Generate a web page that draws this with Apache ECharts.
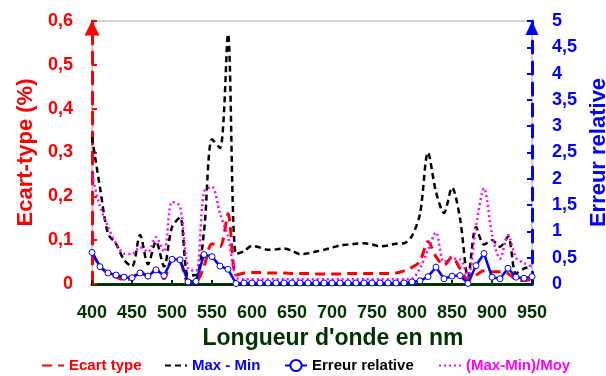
<!DOCTYPE html>
<html>
<head>
<meta charset="utf-8">
<script src="https://cdn.jsdelivr.net/npm/echarts@6/dist/echarts.min.js"></script>
<style>
html,body{margin:0;padding:0;background:#fff;}
#chart{width:606px;height:376px;}
</style>
</head>
<body>
<div id="chart"></div>
<script>
// Wavelengths (nm)
var wavelengths = [400,410,420,430,440,450,460,470,480,490,500,510,520,530,540,550,560,570,580,590,
  600,610,620,630,640,650,660,670,680,690,700,710,720,730,740,750,760,770,780,790,
  800,810,820,830,840,850,860,870,880,890,900,910,920,930,940,950];

// Ecart type (%) - left axis
var ecartType = [0.072,0.04,0.024,0.016,0.01,0.012,0.03,0.016,0.034,0.012,0.055,0.052,0.005,0.006,0.04,0.092,0.085,0.16,0.02,0.025,
  0.026,0.026,0.025,0.025,0.025,0.024,0.024,0.024,0.023,0.023,0.023,0.023,0.024,0.024,0.024,0.024,0.024,0.024,0.025,0.03,
  0.038,0.052,0.097,0.062,0.043,0.062,0.035,0.01,0.02,0.03,0.028,0.028,0.024,0.01,0.008,0.01];

// Max - Min - left axis
var maxMin = [0.335,0.22,0.115,0.092,0.055,0.04,0.112,0.045,0.097,0.04,0.13,0.152,0.02,0.02,0.12,0.33,0.31,0.57,0.068,0.075,
  0.087,0.083,0.078,0.079,0.081,0.076,0.068,0.07,0.074,0.078,0.083,0.088,0.09,0.092,0.093,0.09,0.086,0.088,0.092,0.093,
  0.11,0.16,0.30,0.21,0.162,0.22,0.15,0.015,0.13,0.09,0.1,0.085,0.108,0.024,0.035,0.04];

// Erreur relative - right axis
var erreurRelative = [0.60,0.33,0.21,0.17,0.13,0.12,0.21,0.15,0.27,0.16,0.47,0.46,0.04,0.05,0.56,0.52,0.34,0.28,0.01,0.02,
  0.02,0.02,0.02,0.02,0.02,0.02,0.02,0.02,0.02,0.02,0.02,0.02,0.02,0.02,0.02,0.02,0.02,0.02,0.02,0.02,
  0.04,0.06,0.14,0.32,0.10,0.15,0.16,0.01,0.35,0.58,0.13,0.10,0.30,0.13,0.11,0.14];

// (Max-Min)/Moy - right axis
var maxMinMoy = [2.07,1.47,1.09,0.77,0.58,0.57,0.70,0.61,0.89,0.61,1.56,1.48,0.3,0.25,1.75,1.85,1.34,0.9,0.13,0.09,
  0.09,0.09,0.09,0.09,0.09,0.09,0.09,0.09,0.09,0.09,0.09,0.09,0.09,0.09,0.09,0.09,0.09,0.09,0.09,0.09,
  0.1,0.3,0.65,0.98,0.42,0.48,0.47,0.12,1.1,1.82,0.95,0.48,0.93,0.5,0.4,0.33];

var seriesNames = ['Ecart type','Max - Min','Erreur relative','(Max-Min)/Moy'];
var leftTicks = {min:0, max:0.6, interval:0.1};
var rightTicks = {min:0, max:5, interval:0.5};
var xTicks = {min:400, max:950, interval:50};

function pairs(vals){ return wavelengths.map(function(w,i){ return [w, vals[i]]; }); }
function comma(v){ return String(Number(v.toFixed(2))).replace('.', ','); }

var FONT = '"Liberation Sans", Arial, sans-serif';
var GREEN = '#003300';
var chart = echarts.init(document.getElementById('chart'), null, {renderer:'canvas'});

function legendAt(left, name, color, hideSymbol){
  var l = {
    left: left, top: 358, itemWidth: 22, itemHeight: 14, padding: 0,
    data: [{name: name, textStyle: {color: color}}],
    textStyle: {fontFamily: FONT, fontWeight: 'bold', fontSize: 15}
  };
  if (hideSymbol) { l.itemStyle = {opacity: 0}; }
  return l;
}

chart.setOption({
  animation: false,
  backgroundColor: '#fff',
  grid: {left: 92, right: 74, top: 21, bottom: 92, outerBoundsMode: 'none', containLabel: false,
    show: true, borderColor: '#a6a6a6', borderWidth: 1, backgroundColor: 'transparent'},
  legend: [
    legendAt(41, seriesNames[0], '#ff0000', true),
    legendAt(164, seriesNames[1], '#0000ff', true),
    legendAt(284, seriesNames[2], '#000000', false),
    legendAt(438, seriesNames[3], '#ff00ff', true)
  ],
  xAxis: {
    type: 'value', min: xTicks.min, max: xTicks.max, interval: xTicks.interval,
    name: "Longueur d'onde en nm", nameLocation: 'middle', nameGap: 40,
    nameTextStyle: {color: GREEN, fontFamily: FONT, fontWeight: 'bold', fontSize: 23, padding: [0,0,0,42]},
    axisLine: {show: true, onZero: false, lineStyle: {color: GREEN, width: 3}},
    axisTick: {show: true, inside: true, length: 4, lineStyle: {color: GREEN, width: 2}},
    axisLabel: {color: GREEN, fontFamily: FONT, fontWeight: 'bold', fontSize: 18, margin: 20},
    splitLine: {show: false}
  },
  yAxis: [
    {
      type: 'value', position: 'left', min: leftTicks.min, max: leftTicks.max, interval: leftTicks.interval,
      name: 'Ecart-type (%)', nameLocation: 'middle', nameGap: 55, nameRotate: 90,
      nameTextStyle: {color: '#ff0000', fontFamily: FONT, fontWeight: 'bold', fontSize: 22},
      axisLine: {show: true, symbol: ['none','triangle'], symbolSize: [15,15], symbolOffset: [0,-7],
        lineStyle: {color: '#ff0000', width: 3, type: [12,8]}},
      axisTick: {show: true, inside: true, length: 5, lineStyle: {color: '#ff0000', width: 2}},
      axisLabel: {color: '#ff0000', fontFamily: FONT, fontWeight: 'bold', fontSize: 18, margin: 19, formatter: comma},
      splitLine: {show: false}
    },
    {
      type: 'value', position: 'right', min: rightTicks.min, max: rightTicks.max, interval: rightTicks.interval,
      name: 'Erreur relative', nameLocation: 'middle', nameGap: 46, nameRotate: 90,
      nameTextStyle: {color: '#0000ff', fontFamily: FONT, fontWeight: 'bold', fontSize: 22},
      axisLine: {show: true, symbol: ['none','triangle'], symbolSize: [13,14], symbolOffset: [0,-7],
        lineStyle: {color: '#0000ff', width: 3, type: [12,9]}},
      axisTick: {show: true, inside: true, length: 5, lineStyle: {color: '#0000ff', width: 2}},
      axisLabel: {color: '#0000ff', fontFamily: FONT, fontWeight: 'bold', fontSize: 18, margin: 20, formatter: comma},
      splitLine: {show: false}
    }
  ],
  series: [
    {name: seriesNames[0], type: 'line', yAxisIndex: 0, data: pairs(ecartType), smooth: 0.3,
      symbol: 'none', lineStyle: {color: '#ff0000', width: 3, type: [10,6]}, itemStyle: {color: '#ff0000'}, z: 2},
    {name: seriesNames[1], type: 'line', yAxisIndex: 0, data: pairs(maxMin), smooth: 0.3,
      symbol: 'none', lineStyle: {color: '#000000', width: 2.5, type: [6,4]}, itemStyle: {color: '#000000'}, z: 3},
    {name: seriesNames[3], type: 'line', yAxisIndex: 1, data: pairs(maxMinMoy), smooth: 0.3,
      symbol: 'none', lineStyle: {color: '#ff00ff', width: 2.5, type: [2,3]}, itemStyle: {color: '#ff00ff'}, z: 4},
    {name: seriesNames[2], type: 'line', yAxisIndex: 1, data: pairs(erreurRelative),
      symbol: 'circle', symbolSize: 6, showAllSymbol: true,
      lineStyle: {color: '#0000ff', width: 2.5}, itemStyle: {color: '#ffffff', borderColor: '#0000ff', borderWidth: 1}, z: 5}
  ]
});
</script>
</body>
</html>
